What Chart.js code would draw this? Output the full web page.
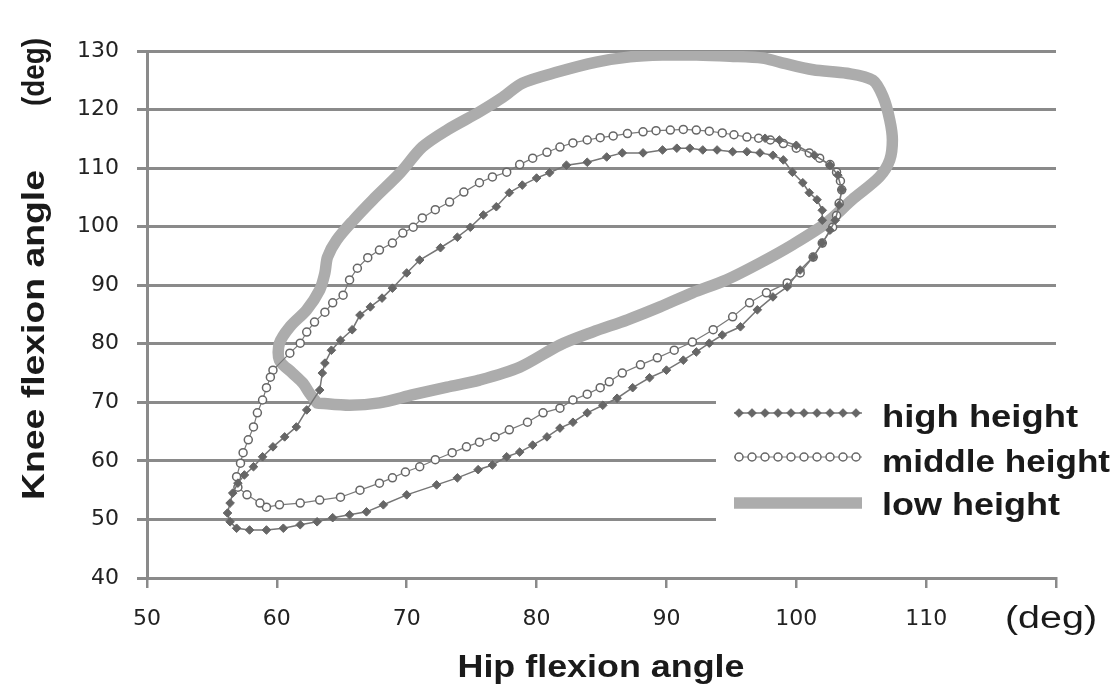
<!DOCTYPE html>
<html>
<head>
<meta charset="utf-8">
<script src="https://cdn.jsdelivr.net/npm/chart.js@4.4.0/dist/chart.umd.min.js"></script>
<style>
  html, body { margin: 0; padding: 0; background: #ffffff; }
  #wrap { width: 1120px; height: 686px; }
</style>
</head>
<body>
<div id="wrap"><canvas id="c" width="1120" height="686"></canvas></div>
<script>
// ---------- data ----------
const seriesNames = ['high height', 'middle height', 'low height'];

const xTickValues = [50, 60, 70, 80, 90, 100, 110];
const yTickValues = [40, 50, 60, 70, 80, 90, 100, 110, 120, 130];

const highX = [102.0,102.0,101.6,101.0,100.5,99.7,99.0,98.2,97.2,96.2,95.1,93.9,92.8,91.8,90.8,89.7,88.2,86.6,85.4,83.9,82.3,81.0,80.0,78.9,77.9,76.9,75.9,74.9,73.9,72.6,71.0,70.0,68.9,68.1,67.2,66.4,65.8,64.9,64.2,63.7,63.5,63.3,62.3,61.5,60.6,59.7,58.9,58.2,57.5,57.0,56.6,56.4,56.2,56.4,56.9,57.9,59.2,60.5,61.8,63.1,64.3,65.6,66.9,68.2,70.0,72.3,73.9,75.5,76.6,77.7,78.7,79.7,80.8,81.8,82.8,83.9,85.1,86.2,87.4,88.7,90.0,91.3,92.3,93.3,94.3,95.7,97.0,98.2,99.3,100.3,101.3,102.0,102.6,103.0,103.3,103.5,103.2,102.6,101.4,100.0,98.7,97.6];
const highY = [101.1,102.8,104.6,105.8,107.5,109.3,111.4,112.2,112.6,112.8,112.8,113.1,113.1,113.4,113.4,113.1,112.6,112.6,111.9,111.0,110.5,109.2,108.3,107.1,105.8,103.4,102.0,99.9,98.2,96.4,94.3,92.1,89.5,87.8,86.3,84.9,82.4,80.6,78.9,76.7,75.0,72.1,68.7,65.8,64.1,62.4,60.7,59.0,57.6,56.2,54.5,52.8,51.1,49.6,48.5,48.2,48.2,48.5,49.1,49.6,50.3,50.8,51.3,52.5,54.2,55.9,57.1,58.5,59.3,60.7,61.5,62.7,64.1,65.6,66.6,68.2,69.5,70.7,72.5,74.2,75.5,77.2,78.6,80.1,81.5,82.9,85.8,88.0,89.7,92.6,94.8,97.2,99.4,101.1,103.7,106.3,108.8,110.5,112.2,113.9,114.8,115.1];

const middleX = [59.7,61.0,61.8,62.3,62.9,63.7,64.3,65.1,65.6,66.2,67.0,67.9,68.9,69.7,70.5,71.2,72.2,73.3,74.4,75.6,76.6,77.7,78.7,79.7,80.8,81.8,82.8,83.9,84.9,85.9,87.0,88.2,89.2,90.3,91.3,92.3,93.3,94.3,95.2,96.2,97.1,98.0,99.0,100.0,101.0,101.8,102.6,103.1,103.4,103.5,103.3,103.1,102.8,102.0,101.3,100.3,99.3,97.7,96.4,95.1,93.6,92.0,90.6,89.3,88.0,86.6,85.6,84.9,83.9,82.8,81.8,80.5,79.3,77.9,76.8,75.6,74.6,73.5,72.2,71.0,69.9,68.9,67.9,66.4,64.9,63.3,61.8,60.2,59.2,58.7,57.7,57.0,56.9,57.2,57.4,57.8,58.2,58.5,58.9,59.2,59.5];
const middleY = [75.5,78.4,80.1,82.0,83.7,85.4,87.0,88.3,90.9,92.9,94.7,96.0,97.2,98.9,99.9,101.5,102.9,104.2,105.9,107.5,108.5,109.3,110.6,111.7,112.7,113.6,114.3,114.8,115.2,115.5,115.9,116.2,116.4,116.5,116.6,116.5,116.3,116.0,115.7,115.3,115.1,114.8,114.2,113.4,112.6,111.7,110.6,109.3,107.8,106.3,104.0,101.9,99.9,97.2,94.8,92.1,90.4,88.7,87.0,84.6,82.4,80.3,78.9,77.6,76.4,75.0,73.5,72.5,71.4,70.4,69.0,68.2,66.6,65.3,64.1,63.2,62.4,61.4,60.2,59.0,58.1,57.1,56.2,55.0,53.8,53.3,52.8,52.5,52.1,52.8,54.2,55.5,57.3,59.6,61.4,63.6,65.8,68.2,70.4,72.5,74.3];

const lowX = [63.1,65.6,67.9,70.5,73.1,75.6,78.7,81.8,84.3,87.0,89.5,92.0,94.6,97.2,99.7,102.3,104.3,106.4,107.2,107.4,107.2,106.7,105.9,103.9,101.3,98.7,97.4,94.9,92.3,89.7,87.2,84.6,81.6,78.9,77.4,75.6,73.1,71.2,69.5,67.4,65.9,64.6,63.9,63.7,63.3,62.3,61.0,60.2,60.2,61.2,62.0,62.5,63.1];
const lowY = [69.9,69.5,69.9,71.3,72.6,73.8,76.0,79.8,82.0,84.1,86.3,88.7,90.9,93.8,96.9,100.6,104.6,108.5,111.4,114.8,118.2,122.1,125.0,126.2,126.8,128.1,128.8,129.1,129.3,129.3,129.0,128.1,126.4,124.5,122.1,119.6,116.5,113.6,109.2,104.6,101.1,97.7,94.8,92.1,89.2,85.8,82.9,80.1,77.2,75.0,73.3,71.6,69.9];

// ---------- build ----------
const pairs = (xs, ys) => xs.map((x, i) => ({ x: x, y: ys[i] }));

const GRID = '#8a8a8a';
const MARK = '#666666';
const LOW = '#acacac';

const styles = [
  { pointStyle: 'rectRot', pointRadius: 4.3, pointBackgroundColor: MARK, pointBorderColor: MARK, pointBorderWidth: 1, borderColor: '#757575', borderWidth: 1.5, tension: 0 },
  { pointStyle: 'circle', pointRadius: 4, pointBackgroundColor: '#ffffff', pointBorderColor: MARK, pointBorderWidth: 1.5, borderColor: '#7a7a7a', borderWidth: 1.2, tension: 0 },
  { pointRadius: 0, borderColor: LOW, borderWidth: 11.5, tension: 0.3, borderCapStyle: 'round', borderJoinStyle: 'round' }
];

const datasets = [
  Object.assign({ label: seriesNames[0], data: pairs(highX, highY), showLine: true, order: 1 }, styles[0]),
  Object.assign({ label: seriesNames[1], data: pairs(middleX, middleY), showLine: true, order: 2 }, styles[1]),
  Object.assign({ label: seriesNames[2], data: pairs(lowX, lowY), showLine: true, order: 3 }, styles[2])
];

function drawFitText(ctx, text, x, y, width, font, rotate) {
  ctx.save();
  ctx.font = font;
  ctx.fillStyle = '#1a1a1a';
  ctx.textAlign = 'center';
  ctx.textBaseline = 'alphabetic';
  const w = ctx.measureText(text).width;
  ctx.translate(x, y);
  if (rotate) ctx.rotate(-Math.PI / 2);
  ctx.scale(width / w, 1);
  ctx.fillText(text, 0, 0);
  ctx.restore();
}

const decorPlugin = {
  id: 'decor',
  afterDraw(chart) {
    const ctx = chart.ctx;
    // axis titles
    drawFitText(ctx, 'Hip flexion angle', 601, 677, 287, 'bold 31px "Liberation Sans", Arial, sans-serif', false);
    drawFitText(ctx, '(deg)', 1051, 628, 92, '31px "Liberation Sans", Arial, sans-serif', false);
    drawFitText(ctx, 'Knee flexion angle', 44, 335, 330, 'bold 31px "Liberation Sans", Arial, sans-serif', true);
    drawFitText(ctx, '(deg)', 44, 72, 68, 'bold 31px "Liberation Sans", Arial, sans-serif', true);

    // legend box
    ctx.save();
    ctx.fillStyle = '#ffffff';
    ctx.fillRect(716, 392, 404, 138);
    const rows = [413, 457, 503];
    const textBase = [427, 472, 515];
    const textW = [196, 228, 178];
    for (let i = 0; i < 3; i++) {
      const st = styles[i];
      const y = rows[i];
      ctx.save();
      ctx.strokeStyle = st.borderColor;
      ctx.lineWidth = st.borderWidth;
      ctx.beginPath();
      ctx.moveTo(734, y);
      ctx.lineTo(862, y);
      ctx.stroke();
      ctx.restore();
      if (st.pointRadius > 0) {
        for (let k = 0; k < 10; k++) {
          const px = 739 + k * 13;
          ctx.save();
          ctx.fillStyle = st.pointBackgroundColor;
          ctx.strokeStyle = st.pointBorderColor;
          ctx.lineWidth = st.pointBorderWidth;
          ctx.beginPath();
          if (st.pointStyle === 'circle') {
            ctx.arc(px, y, st.pointRadius, 0, Math.PI * 2);
          } else {
            const r = st.pointRadius;
            ctx.moveTo(px, y - r); ctx.lineTo(px + r, y); ctx.lineTo(px, y + r); ctx.lineTo(px - r, y); ctx.closePath();
          }
          ctx.fill();
          ctx.stroke();
          ctx.restore();
        }
      }
      ctx.save();
      ctx.font = 'bold 31px "Liberation Sans", Arial, sans-serif';
      ctx.fillStyle = '#1a1a1a';
      ctx.textAlign = 'left';
      const w = ctx.measureText(seriesNames[i]).width;
      ctx.translate(882, textBase[i]);
      ctx.scale(textW[i] / w, 1);
      ctx.fillText(seriesNames[i], 0, 0);
      ctx.restore();
    }
    ctx.restore();
  }
};

new Chart(document.getElementById('c'), {
  type: 'scatter',
  data: { datasets: datasets },
  options: {
    responsive: false,
    animation: false,
    devicePixelRatio: 1,
    layout: { padding: { top: 51, right: 64, left: 0, bottom: 0 } },
    plugins: { legend: { display: false }, tooltip: { enabled: false } },
    scales: {
      x: {
        type: 'linear', min: 50, max: 120,
        afterFit(s) { s.height = 108; },
        afterBuildTicks(s) { s.ticks = [50,60,70,80,90,100,110,120].map(v => ({ value: v })); },
        ticks: {
          autoSkip: false, maxRotation: 0, padding: 18,
          color: '#222222',
          font: { family: '"DejaVu Sans", sans-serif', size: 22 },
          callback: v => xTickValues.includes(v) ? String(v) : ''
        },
        grid: { drawOnChartArea: false, drawTicks: true, tickLength: 10, color: GRID, lineWidth: 2.5 },
        border: { display: true, color: GRID, width: 3 }
      },
      y: {
        type: 'linear', min: 40, max: 130,
        afterFit(s) { s.width = 147; },
        afterBuildTicks(s) { s.ticks = yTickValues.map(v => ({ value: v })); },
        ticks: {
          autoSkip: false, padding: 18,
          color: '#222222',
          font: { family: '"DejaVu Sans", sans-serif', size: 22 },
          callback: v => String(v)
        },
        grid: { drawTicks: true, tickLength: 10, color: GRID, lineWidth: 3 },
        border: { display: true, color: GRID, width: 3 }
      }
    }
  },
  plugins: [decorPlugin]
});
</script>
</body>
</html>
